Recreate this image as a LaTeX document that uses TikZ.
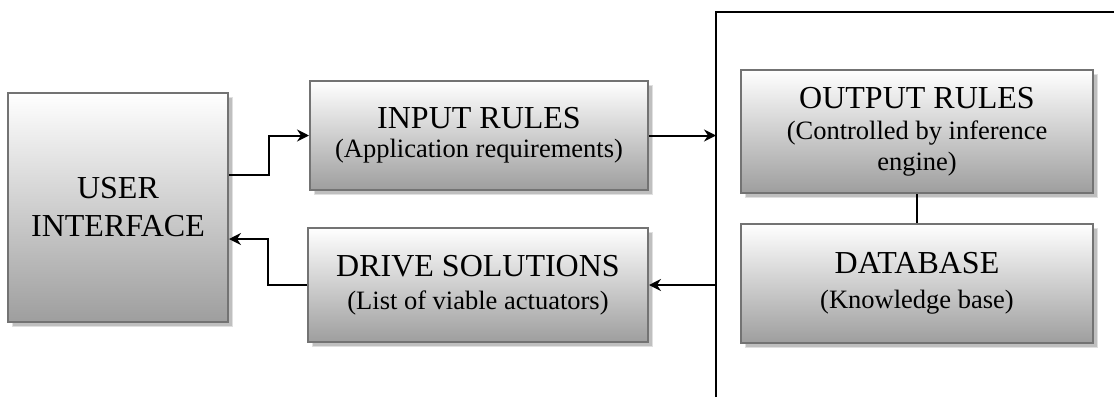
\documentclass[tikz,border=0pt]{standalone}
\usepackage{fontspec}
\setmainfont{Liberation Serif}
\usetikzlibrary{arrows.meta,shadows}

\tikzset{
  block/.style={
    rectangle, draw=black!55, line width=2pt,
    top color=white, bottom color=black!38,
    align=center, inner sep=0pt,
    font=\fontsize{26.5}{31}\selectfont,
    general shadow={shadow xshift=4pt, shadow yshift=-4pt, fill=black!25, draw=black!12, line width=0.5pt}
  },
  conn/.style={line width=2pt, -{Stealth[length=12pt,width=12pt,inset=4pt]}},
  plain/.style={line width=2pt},
}
\newcommand{\boxtitle}{\fontsize{32}{31}\selectfont}
\newcommand{\boxsub}{\fontsize{26.5}{31}\selectfont}

\begin{document}
\begin{tikzpicture}[x=1pt,y=-1pt]
  \useasboundingbox (0,0) rectangle (1114,397);

  % main blocks
  \node[block, minimum width=220pt, minimum height=229pt,
        font=\fontsize{32}{38}\selectfont] (ui) at (118,207.5)
    {USER\\INTERFACE};
  \node[block, minimum width=338pt, minimum height=109pt] (inp) at (479,135.5)
    {\boxtitle INPUT RULES\\[-2pt] \boxsub (Application requirements)};
  \node[block, minimum width=340pt, minimum height=114pt] (drv) at (478,285)
    {\boxtitle DRIVE SOLUTIONS\\[2pt] \boxsub (List of viable actuators)};
  \node[block, minimum width=352pt, minimum height=123pt] (out) at (917,131.5)
    {\boxtitle OUTPUT RULES\\ \boxsub (Controlled by inference\\ \boxsub engine)};
  \node[block, minimum width=352pt, minimum height=119pt] (db) at (917,283.5)
    {\boxtitle DATABASE\\[4pt] \boxsub (Knowledge base)};

  % open frame around the rule engine
  \coordinate (fb) at (716,397);
  \coordinate (ft) at (716,12);
  \coordinate (fr) at (1114,12);
  \draw[plain] (fb) -- (ft) -- (fr);

  % connectors
  \coordinate (uiout) at (269,175);
  \coordinate (uiin) at (268,239);
  \draw[conn] (ui.east |- uiout) -- (uiout) |- (inp.west);
  \draw[conn] (drv.west) -| (uiin) -- (ui.east |- uiin);
  \draw[conn] (inp.east) -- (inp.east -| fb);
  \draw[conn] (drv.east -| fb) -- (drv.east);
  \draw[line width=1.5pt] (out.south) -- (db.north);
\end{tikzpicture}
\end{document}
